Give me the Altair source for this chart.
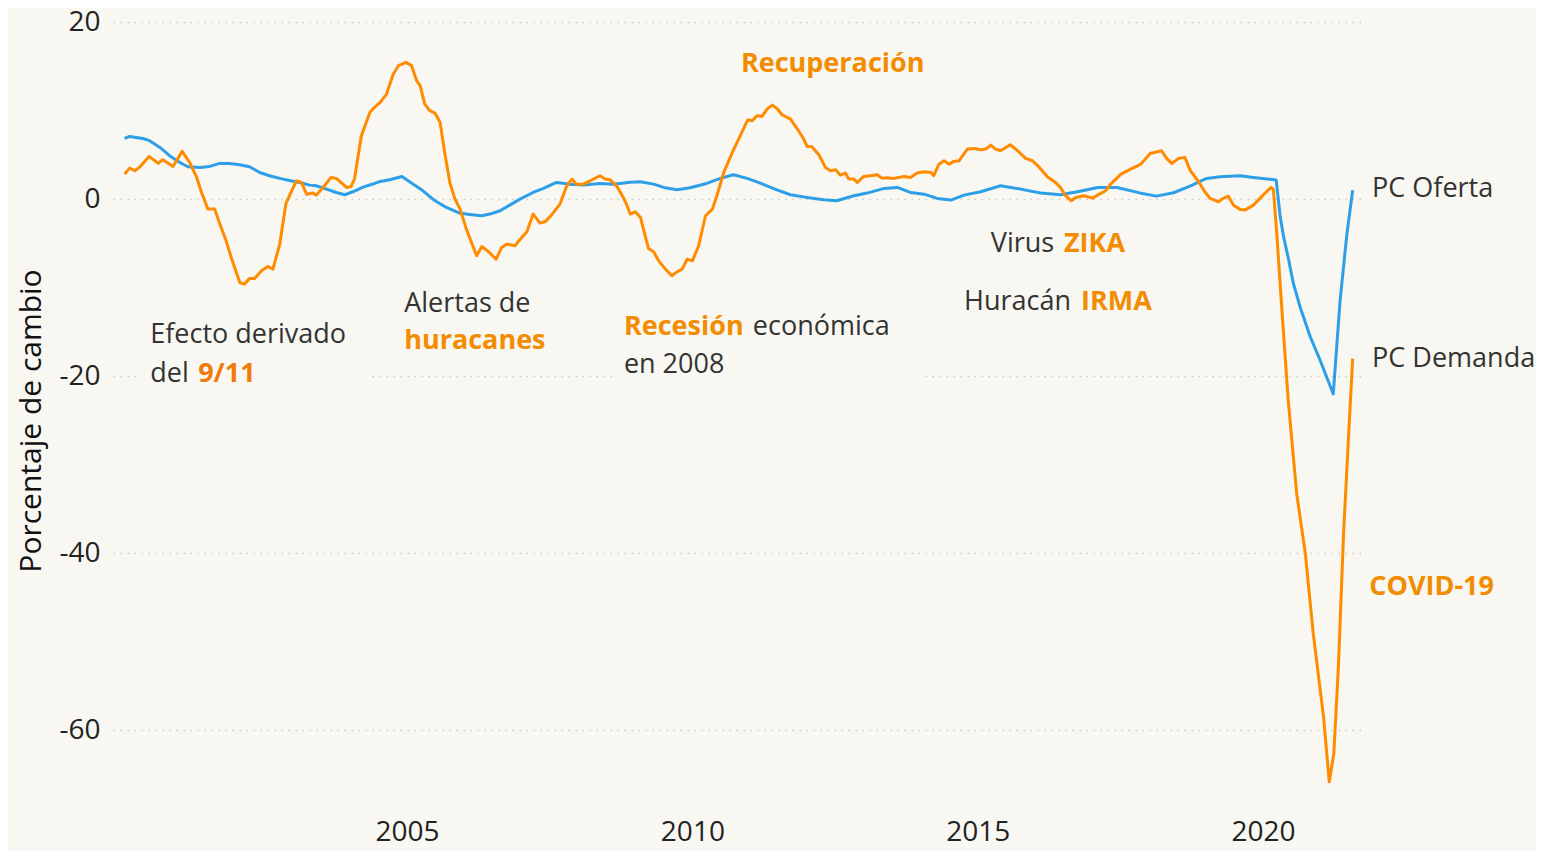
import altair as alt
import pandas as pd

# ---------------- data ----------------
oferta_year = [2000.05, 2000.14, 2000.37, 2000.49, 2000.67, 2000.84, 2001.02, 2001.16, 2001.37, 2001.54,
               2001.72, 2001.89, 2002.07, 2002.24, 2002.42, 2002.59, 2002.77, 2002.94, 2003.12, 2003.29,
               2003.41, 2003.59, 2003.76, 2003.91, 2004.05, 2004.23, 2004.40, 2004.53, 2004.70, 2004.91,
               2005.11, 2005.28, 2005.49, 2005.69, 2005.92, 2006.10, 2006.31, 2006.45, 2006.63, 2006.80,
               2006.98, 2007.21, 2007.39, 2007.62, 2007.86, 2008.09, 2008.38, 2008.62, 2008.91, 2009.09,
               2009.32, 2009.50, 2009.73, 2009.96, 2010.25, 2010.49, 2010.72, 2010.96, 2011.19, 2011.48,
               2011.72, 2012.01, 2012.30, 2012.53, 2012.83, 2013.06, 2013.36, 2013.59, 2013.82, 2014.06,
               2014.29, 2014.53, 2014.76, 2015.05, 2015.40, 2015.75, 2016.10, 2016.45, 2016.75, 2017.10,
               2017.44, 2017.84, 2018.13, 2018.43, 2018.72, 2019.01, 2019.25, 2019.60, 2019.83, 2020.23,
               2020.30, 2020.36, 2020.45, 2020.53, 2020.65, 2020.83, 2021.00, 2021.23, 2021.35, 2021.47,
               2021.57]
oferta_value = [6.85, 7.08, 6.85, 6.6, 5.84, 4.9, 4.14, 3.65, 3.58, 3.69,
                4.03, 4.03, 3.88, 3.65, 3.01, 2.64, 2.34, 2.11, 1.88, 1.58,
                1.51, 1.13, 0.75, 0.49, 0.83, 1.36, 1.7, 2.0, 2.18, 2.56,
                1.69, 0.94, -0.19, -0.94, -1.58, -1.73, -1.88, -1.69, -1.32, -0.68,
                0.0, 0.75, 1.21, 1.88, 1.69, 1.58, 1.77, 1.69, 1.9, 1.96,
                1.69, 1.32, 1.05, 1.28, 1.77, 2.34, 2.75, 2.34, 1.81, 1.05,
                0.49, 0.19, -0.08, -0.19, 0.38, 0.68, 1.21, 1.32, 0.75, 0.56,
                0.08, -0.11, 0.45, 0.83, 1.51, 1.13, 0.68, 0.49, 0.83, 1.32,
                1.32, 0.7, 0.34, 0.72, 1.47, 2.34, 2.52, 2.64, 2.45, 2.15,
                -2.0, -4.26, -6.9, -9.5, -12.2, -15.6, -18.2, -22.0, -11.4, -3.88,
                1.02]

demanda_year = [2000.05, 2000.14, 2000.23, 2000.31, 2000.48, 2000.64, 2000.72, 2000.90, 2001.06, 2001.19,
                2001.31, 2001.40, 2001.51, 2001.63, 2001.72, 2001.83, 2001.92, 2002.07, 2002.15, 2002.24,
                2002.33, 2002.45, 2002.56, 2002.65, 2002.77, 2002.88, 2003.06, 2003.15, 2003.24, 2003.35,
                2003.41, 2003.53, 2003.67, 2003.76, 2003.94, 2004.02, 2004.08, 2004.20, 2004.35, 2004.41,
                2004.53, 2004.64, 2004.76, 2004.85, 2004.98, 2005.08, 2005.17, 2005.23, 2005.31, 2005.40,
                2005.49, 2005.58, 2005.66, 2005.75, 2005.84, 2005.93, 2006.04, 2006.13, 2006.22, 2006.31,
                2006.43, 2006.56, 2006.66, 2006.75, 2006.89, 2007.01, 2007.10, 2007.21, 2007.33, 2007.42,
                2007.53, 2007.68, 2007.80, 2007.89, 2007.97, 2008.09, 2008.21, 2008.38, 2008.47, 2008.56,
                2008.67, 2008.79, 2008.84, 2008.91, 2009.00, 2009.09, 2009.23, 2009.32, 2009.41, 2009.53,
                2009.64, 2009.73, 2009.82, 2009.91, 2010.00, 2010.11, 2010.23, 2010.35, 2010.43, 2010.55,
                2010.70, 2010.84, 2010.97, 2011.05, 2011.13, 2011.22, 2011.31, 2011.40, 2011.49, 2011.57,
                2011.72, 2011.86, 2011.95, 2012.01, 2012.09, 2012.22, 2012.33, 2012.42, 2012.51, 2012.59,
                2012.68, 2012.74, 2012.83, 2012.89, 2013.00, 2013.12, 2013.24, 2013.32, 2013.41, 2013.53,
                2013.71, 2013.82, 2013.94, 2014.06, 2014.18, 2014.23, 2014.32, 2014.41, 2014.50, 2014.58,
                2014.67, 2014.82, 2014.94, 2015.05, 2015.14, 2015.23, 2015.31, 2015.40, 2015.57, 2015.70,
                2015.84, 2015.96, 2016.08, 2016.22, 2016.34, 2016.45, 2016.54, 2016.64, 2016.72, 2016.86,
                2017.01, 2017.10, 2017.24, 2017.33, 2017.51, 2017.68, 2017.86, 2018.02, 2018.22, 2018.31,
                2018.40, 2018.52, 2018.63, 2018.72, 2018.87, 2018.98, 2019.07, 2019.22, 2019.30, 2019.39,
                2019.48, 2019.60, 2019.68, 2019.83, 2020.00, 2020.14, 2020.18, 2020.24, 2020.33, 2020.44,
                2020.59, 2020.74, 2020.88, 2021.06, 2021.16, 2021.24, 2021.32, 2021.41, 2021.50, 2021.57]
demanda_value = [2.82, 3.5, 3.2, 3.58, 4.82, 4.03, 4.44, 3.69, 5.39, 4.14,
                 2.52, 0.75, -1.13, -1.13, -2.82, -4.71, -6.59, -9.42, -9.6, -8.96,
                 -8.96, -8.1, -7.6, -7.9, -5.08, -0.45, 2.07, 1.88, 0.56, 0.68,
                 0.45, 1.32, 2.45, 2.34, 1.32, 1.43, 2.26, 7.16, 9.8, 10.24,
                 10.92, 11.86, 14.12, 15.07, 15.44, 15.07, 13.37, 12.81, 10.73, 9.98,
                 9.72, 8.66, 5.27, 1.88, 0.0, -1.13, -3.39, -4.9, -6.4, -5.35,
                 -5.95, -6.78, -5.46, -5.08, -5.27, -4.33, -3.69, -1.69, -2.71, -2.56,
                 -1.81, -0.56, 1.51, 2.26, 1.69, 1.69, 2.07, 2.64, 2.26, 2.18,
                 1.51, 0.19, -0.5, -1.69, -1.43, -2.07, -5.57, -5.95, -6.97, -7.91,
                 -8.66, -8.21, -7.91, -6.78, -6.97, -5.27, -1.88, -1.13, 0.38, 3.01,
                 5.27, 7.16, 8.96, 8.85, 9.42, 9.34, 10.17, 10.62, 10.17, 9.53,
                 9.04, 7.72, 6.78, 5.95, 5.95, 4.97, 3.58, 3.2, 3.31, 2.71,
                 2.94, 2.26, 2.26, 1.88, 2.56, 2.64, 2.75, 2.37, 2.4, 2.34,
                 2.56, 2.45, 2.94, 3.09, 3.01, 2.64, 3.95, 4.33, 3.95, 4.26,
                 4.33, 5.65, 5.72, 5.57, 5.65, 6.1, 5.65, 5.46, 6.14, 5.46,
                 4.6, 4.33, 3.58, 2.52, 2.0, 1.32, 0.38, -0.19, 0.19, 0.38,
                 0.11, 0.45, 0.94, 1.69, 2.82, 3.39, 3.95, 5.16, 5.46, 4.6,
                 4.03, 4.6, 4.71, 3.28, 1.96, 0.83, 0.08, -0.3, 0.08, 0.34,
                 -0.68, -1.17, -1.24, -0.68, 0.45, 1.32, 1.09, -3.88, -12.5, -22.7,
                 -33.3, -40.0, -49.1, -58.5, -65.8, -62.6, -52.8, -37.8, -26.5, -18.0]

series_names = ["PC Oferta", "PC Demanda"]

x_ticks = [2005, 2010, 2015, 2020]
y_ticks = [-60, -40, -20, 0, 20]

# annotation segments: text, left x (year), baseline (value), style
ann_text = ["Efecto derivado", "del", "9/11",
            "Alertas de", "huracanes",
            "Recesión", "económica", "en 2008",
            "Recuperación",
            "Virus", "ZIKA",
            "Huracán", "IRMA",
            "PC Oferta", "PC Demanda", "COVID-19"]
ann_year = [2000.50, 2000.50, 2001.34,
            2004.95, 2004.95,
            2008.80, 2011.06, 2008.80,
            2010.85,
            2015.23, 2016.51,
            2014.76, 2016.81,
            2021.91, 2021.91, 2021.86]
ann_value = [-16.25, -20.65, -20.65,
             -12.75, -16.93,
             -15.35, -15.35, -19.64,
             14.35,
             -5.97, -5.97,
             -12.52, -12.52,
             0.24, -18.96, -44.7]
ann_style = ["regular", "regular", "accent",
             "regular", "bold",
             "bold", "regular", "regular",
             "bold",
             "regular", "bold",
             "regular", "bold",
             "regular", "regular", "bold"]

# text boxes that hide the dotted grid behind the annotations
box_x0 = [2000.32, 2008.68]
box_x1 = [2004.32, 2013.99]
box_y0 = [-17.8, -17.8]
box_y1 = [-22.2, -22.2]

# ---------------- styling ----------------
BG = "#F8F7F1"
BLUE = "#2C9FE8"
ORANGE = "#FF8C00"
TEXT = "#333333"
BOLD = "#F28C00"
ACCENT = "#F07A0C"
FONT = "Open Sans"

lines_df = pd.concat([
    pd.DataFrame({"year": oferta_year, "value": oferta_value, "serie": series_names[0]}),
    pd.DataFrame({"year": demanda_year, "value": demanda_value, "serie": series_names[1]}),
], ignore_index=True)
lines_df["order"] = range(len(lines_df))

ann_df = pd.DataFrame({"year": ann_year, "value": ann_value, "text": ann_text, "style": ann_style})
box_df = pd.DataFrame({"year": box_x0, "year2": box_x1, "value": box_y0, "value2": box_y1})

x_scale = alt.Scale(domain=[1999.848, 2021.786], nice=False, zero=False)
y_scale = alt.Scale(domain=[-70, 20], nice=False, zero=False)

x_axis = alt.Axis(values=x_ticks, labelExpr="'' + datum.value", grid=False, ticks=False,
                  domain=False, labelFontSize=28, labelColor="#222222", labelFont=FONT,
                  labelBaseline="alphabetic", labelPadding=21, title=None)
y_axis = alt.Axis(values=y_ticks, labelExpr="'' + datum.value", grid=True, gridDash=[1.5, 5.5],
                  gridColor="#C9C9C9", gridWidth=1.5, ticks=False, domain=False,
                  labelFontSize=28, labelColor="#222222", labelFont=FONT, labelPadding=13,
                  title="Porcentaje de cambio", titleFontSize=30, titleFont=FONT,
                  titleFontWeight="normal", titleColor="#111111", titleAngle=270,
                  titleX=-82, titleY=398.5, titleAlign="center", titleBaseline="middle")


def X(field):
    return alt.X(f"{field}:Q", scale=x_scale, axis=x_axis)


def Y(field):
    return alt.Y(f"{field}:Q", scale=y_scale, axis=y_axis)


boxes = alt.Chart(box_df).mark_rect(color=BG).encode(
    x=X("year"), x2="year2", y=Y("value"), y2="value2")

lines = alt.Chart(lines_df).mark_line(strokeWidth=3, strokeJoin="round").encode(
    x=X("year"), y=Y("value"),
    color=alt.Color("serie:N", scale=alt.Scale(domain=series_names, range=[BLUE, ORANGE]), legend=None),
    order="order:Q")

txt_regular = alt.Chart(ann_df).transform_filter("datum.style == 'regular'").mark_text(
    align="left", baseline="alphabetic", font=FONT, fontSize=27, color=TEXT).encode(
    x=X("year"), y=Y("value"), text="text:N")

txt_bold = alt.Chart(ann_df).transform_filter("datum.style == 'bold'").mark_text(
    align="left", baseline="alphabetic", font=FONT, fontSize=27, fontWeight="bold", color=BOLD).encode(
    x=X("year"), y=Y("value"), text="text:N")

txt_accent = alt.Chart(ann_df).transform_filter("datum.style == 'accent'").mark_text(
    align="left", baseline="alphabetic", font=FONT, fontSize=27, fontWeight="bold", color=ACCENT).encode(
    x=X("year"), y=Y("value"), text="text:N")

chart = alt.layer(boxes, lines, txt_regular, txt_bold, txt_accent).properties(
    width=1252, height=797,
    padding={"left": 105, "top": 14, "right": 171, "bottom": 32},
    autosize=alt.AutoSizeParams(type="none"),
    background=BG,
).configure(font=FONT).configure_view(stroke=None, strokeWidth=0)

chart.save("out.html", embed_options={"renderer": "svg", "actions": False})
